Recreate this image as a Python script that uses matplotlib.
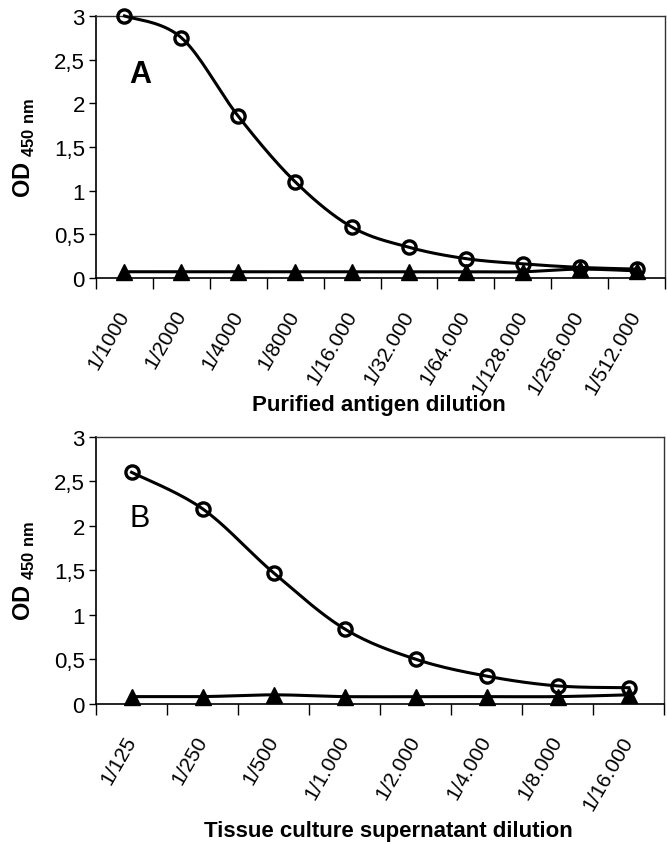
import numpy as np
import matplotlib
matplotlib.use("Agg")
import matplotlib.pyplot as plt

plt.rcParams['font.family'] = ['Liberation Sans', 'DejaVu Sans']
plt.rcParams['mathtext.fontset'] = 'custom'
plt.rcParams['mathtext.rm'] = 'Liberation Sans'
plt.rcParams['mathtext.bf'] = 'Liberation Sans:bold'

# panel A: purified antigen
dilA = ['1/1000', '1/2000', '1/4000', '1/8000', '1/16.000', '1/32.000',
        '1/64.000', '1/128.000', '1/256.000', '1/512.000']
posA = [3.0, 2.75, 1.85, 1.1, 0.58, 0.35, 0.22, 0.16, 0.12, 0.10]
negA = [0.07, 0.07, 0.07, 0.07, 0.07, 0.07, 0.07, 0.07, 0.10, 0.08]

# panel B: tissue culture supernatant
dilB = ['1/125', '1/250', '1/500', '1/1.000', '1/2.000', '1/4.000', '1/8.000', '1/16.000']
posB = [2.6, 2.19, 1.47, 0.84, 0.5, 0.31, 0.2, 0.18]
negB = [0.08, 0.08, 0.1, 0.08, 0.08, 0.08, 0.08, 0.1]

yticks = [0, 0.5, 1, 1.5, 2, 2.5, 3]
yticklabels = ['0', '0,5', '1', '1,5', '2', '2,5', '3']


def smooth(y, steps=20):
    # Catmull-Rom curve through the points, like Excel's smoothed line
    y = np.asarray(y, float)
    x = np.arange(len(y), dtype=float)
    pts = np.column_stack([x, y])
    pts = np.vstack([pts[0], pts, pts[-1]])
    t = np.linspace(0, 1, steps)[:, None]
    out = []
    for i in range(1, len(pts) - 2):
        p0, p1, p2, p3 = pts[i - 1], pts[i], pts[i + 1], pts[i + 2]
        seg = 0.5 * ((2 * p1) + (-p0 + p2) * t +
                     (2 * p0 - 5 * p1 + 4 * p2 - p3) * t ** 2 +
                     (-p0 + 3 * p1 - 3 * p2 + p3) * t ** 3)
        out.append(seg)
    out = np.vstack(out)
    return out[:, 0], out[:, 1]


def panel(ax, labels, pos, neg, letter, letterweight, letterxy):
    n = len(labels)
    x = np.arange(n)
    for ys in (neg, pos):
        sx, sy = smooth(ys)
        ax.plot(sx, sy, color='black', lw=2.2, clip_on=False, zorder=3)
    ax.plot(x, neg, ls='none', marker='^', ms=11, mfc='black', mec='black',
            clip_on=False, zorder=4)
    ax.plot(x, pos, ls='none', marker='o', ms=9.5, mfc='none', mec='black',
            mew=2.4, clip_on=False, zorder=5)

    ax.set_xlim(-0.5, n - 0.5)
    ax.set_ylim(0, 3)
    ax.set_yticks(yticks)
    ax.set_yticklabels(yticklabels, fontsize=16)
    ax.tick_params(axis='y', direction='out', length=5, width=1, pad=3)

    # ticks on the category boundaries, labels in the middle
    ax.set_xticks(np.arange(n + 1) - 0.5)
    ax.set_xticklabels([])
    ax.set_xticks(x, minor=True)
    ax.set_xticklabels(labels, minor=True, rotation=60, ha='right', va='center',
                       rotation_mode='anchor', fontsize=15)
    ax.tick_params(axis='x', which='major', direction='out', length=8, width=1)
    ax.tick_params(axis='x', which='minor', length=0, pad=24)

    for s in ('top', 'right'):
        ax.spines[s].set_color('#333333')
        ax.spines[s].set_linewidth(1)
    for s in ('left', 'bottom'):
        ax.spines[s].set_linewidth(1.2)

    ax.set_ylabel(r'$\mathbf{OD}_{\mathbf{\ 450\ nm}}$', fontsize=17, labelpad=12)
    ax.text(letterxy[0], letterxy[1], letter, fontsize=22, fontweight=letterweight,
            ha='center', va='center')
    return ax


fig = plt.figure(figsize=(6.67, 8.45), dpi=100)
axA = fig.add_axes([0.144, 0.670, 0.853, 0.310])
axB = fig.add_axes([0.144, 0.166, 0.852, 0.316])

panel(axA, dilA, posA, negA, 'A', 'bold', (0.27, 2.34))
panel(axB, dilB, posB, negB, 'B', 'normal', (0.12, 2.09))

fig.text(379 / 667, 1 - 406 / 845, 'Purified antigen dilution', fontsize=16,
         fontweight='bold', ha='center', va='center')
fig.text(388 / 667, 1 - 832 / 845, 'Tissue culture supernatant dilution', fontsize=16,
         fontweight='bold', ha='center', va='center')

fig.savefig('out.png', dpi=100)
